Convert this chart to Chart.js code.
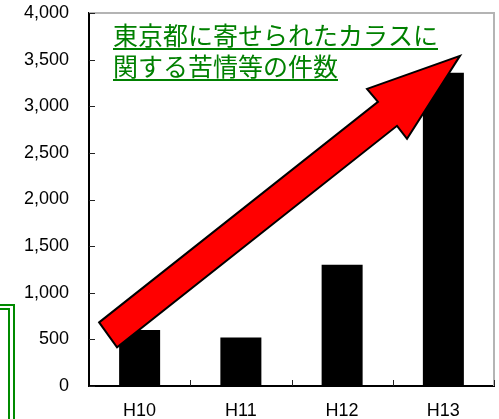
<!DOCTYPE html>
<html>
<head>
<meta charset="utf-8">
<script src="https://cdn.jsdelivr.net/npm/chart.js@4"></script>
<style>
  html, body { margin: 0; padding: 0; background: #fff; }
  #wrap { width: 499px; height: 419px; }
</style>
</head>
<body>
<div id="wrap"><canvas id="grafico" width="499" height="419"></canvas></div>
<script>
// 年度ごとの苦情件数
const nendo = ["H10", "H11", "H12", "H13"];
const kensu = [600, 520, 1300, 3360];
const yMemori = [0, 500, 1000, 1500, 2000, 2500, 3000, 3500, 4000];
const midashi = ["東京都に寄せられたカラスに", "関する苦情等の件数"];

// 右上がりの矢印（x はカテゴリ位置、y は件数の単位）
const yajirushi = [
  [-0.40, 682], [2.354, 3047], [2.246, 3186], [3.164, 3540],
  [2.641, 2651], [2.542, 2790], [-0.223, 414]
];

const fuchiPlugin = {
  id: "fuchi",
  afterDatasetsDraw(chart) {
    const ctx = chart.ctx;
    const a = chart.chartArea;
    const x = chart.scales.x;
    const y = chart.scales.y;

    ctx.save();
    // 上と右の灰色の枠
    ctx.strokeStyle = "#b4b4b4";
    ctx.lineWidth = 2;
    ctx.beginPath();
    ctx.moveTo(a.left, a.top);
    ctx.lineTo(a.right, a.top);
    ctx.lineTo(a.right, a.bottom);
    ctx.stroke();

    // 内向きの目盛り
    ctx.strokeStyle = "#222";
    ctx.lineWidth = 1;
    ctx.beginPath();
    yMemori.forEach(v => {
      const py = Math.round(y.getPixelForValue(v)) + 0.5;
      ctx.moveTo(a.left, py);
      ctx.lineTo(a.left + 6, py);
    });
    for (let i = 1; i <= nendo.length; i++) {
      const px = Math.round(x.getPixelForValue(i - 0.5)) + 0.5;
      ctx.moveTo(px, a.bottom);
      ctx.lineTo(px, a.bottom - 6);
    }
    ctx.stroke();

    // 矢印
    ctx.beginPath();
    yajirushi.forEach(([cx, cy], i) => {
      const px = x.getPixelForValue(cx);
      const py = y.getPixelForValue(cy);
      if (i === 0) ctx.moveTo(px, py); else ctx.lineTo(px, py);
    });
    ctx.closePath();
    ctx.fillStyle = "#ff0000";
    ctx.fill();
    ctx.strokeStyle = "#000";
    ctx.lineWidth = 2;
    ctx.lineJoin = "miter";
    ctx.stroke();

    // 見出し（下線付き）
    ctx.font = '25px "Noto Sans CJK JP"';
    ctx.fillStyle = "#008000";
    ctx.strokeStyle = "#008000";
    ctx.textBaseline = "alphabetic";
    ctx.textAlign = "left";
    ctx.lineWidth = 2;
    midashi.forEach((s, i) => {
      const bx = 113;
      const by = 45 + i * 31;
      ctx.fillText(s, bx, by);
      const w = ctx.measureText(s).width;
      ctx.beginPath();
      ctx.moveTo(bx, by + 4);
      ctx.lineTo(bx + w, by + 4);
      ctx.stroke();
    });

    // 左下の緑の二重枠
    ctx.strokeStyle = "#008a00";
    ctx.lineWidth = 2;
    ctx.beginPath();
    ctx.moveTo(0, 305);
    ctx.lineTo(14, 305);
    ctx.lineTo(14, 419);
    ctx.moveTo(0, 309);
    ctx.lineTo(9, 309);
    ctx.lineTo(9, 419);
    ctx.stroke();
    ctx.restore();
  }
};

new Chart(document.getElementById("grafico"), {
  type: "bar",
  data: {
    labels: nendo,
    datasets: [{
      data: kensu,
      backgroundColor: "#000",
      categoryPercentage: 1,
      barPercentage: 0.405
    }]
  },
  options: {
    responsive: false,
    animation: false,
    layout: { padding: { top: 13, right: 5, left: 0, bottom: 0 } },
    plugins: {
      legend: { display: false },
      tooltip: { enabled: false }
    },
    scales: {
      x: {
        grid: { display: false, drawTicks: false },
        border: { display: true, color: "#000", width: 2 },
        ticks: {
          color: "#000",
          padding: 14,
          font: { family: "Liberation Sans", size: 18 }
        },
        afterFit(s) {
          s.height = 33;
          s.paddingLeft = 0;
          s.paddingRight = 0;
        }
      },
      y: {
        min: 0,
        max: 4000,
        grid: { display: false, drawTicks: false },
        border: { display: true, color: "#000", width: 2 },
        ticks: {
          stepSize: 500,
          color: "#000",
          padding: 20,
          font: { family: "Liberation Sans", size: 18 },
          callback: v => v.toLocaleString("en-US")
        },
        afterFit(s) {
          s.width = 89;
          s.paddingTop = 0;
          s.paddingBottom = 0;
        }
      }
    }
  },
  plugins: [fuchiPlugin]
});
</script>
</body>
</html>
